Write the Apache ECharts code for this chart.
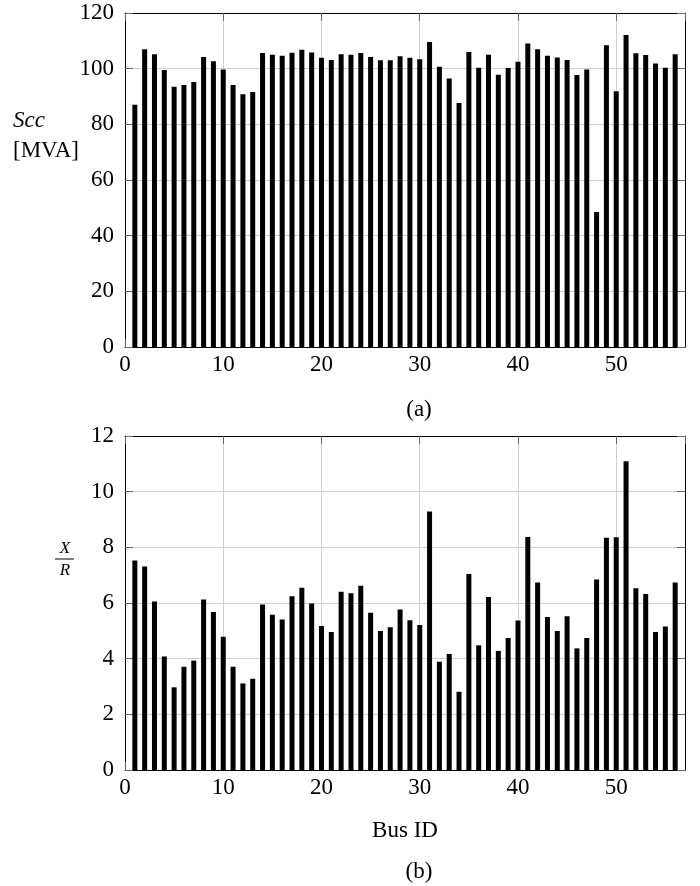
<!DOCTYPE html>
<html>
<head>
<meta charset="utf-8">
<script src="https://cdn.jsdelivr.net/npm/echarts@6/dist/echarts.min.js"></script>
<style>
html,body{margin:0;padding:0;background:#fff;}
#chart{width:700px;height:886px;}
</style>
</head>
<body>
<div id="chart"></div>
<script>
const busId = [1,2,3,4,5,6,7,8,9,10,11,12,13,14,15,16,17,18,19,20,21,22,23,24,25,26,27,28,29,30,31,32,33,34,35,36,37,38,39,40,41,42,43,44,45,46,47,48,49,50,51,52,53,54,55,56];
const sccMVA = [87.0,107.0,105.2,99.5,93.5,94.1,95.2,104.2,102.7,99.7,94.1,90.8,91.6,105.6,105.0,104.6,105.7,106.8,105.8,103.9,103.1,105.2,105.0,105.6,104.2,103.0,103.0,104.5,103.9,103.4,109.6,100.7,96.5,87.7,106.0,100.3,105.0,97.8,100.2,102.5,109.0,107.0,104.6,104.0,103.1,97.7,99.7,48.5,108.4,91.9,112.1,105.5,104.9,101.9,100.3,105.2];
const xrRatio = [7.53,7.31,6.05,4.08,2.97,3.71,3.93,6.13,5.68,4.79,3.71,3.11,3.28,5.95,5.58,5.41,6.24,6.55,5.98,5.17,4.96,6.40,6.35,6.62,5.65,4.99,5.13,5.77,5.38,5.21,9.29,3.89,4.17,2.81,7.04,4.48,6.22,4.28,4.74,5.37,8.37,6.74,5.50,4.99,5.52,4.37,4.74,6.84,8.34,8.36,11.09,6.53,6.32,4.96,5.16,6.74];
const xLabelText = 'Bus ID';
const captions = ['(a)', '(b)'];

const FONT = '"Liberation Serif", "DejaVu Serif", serif';
const TICK_FS = 23;

function xAxisPair(gridIndex) {
  const base = {
    type: 'value', gridIndex: gridIndex, min: 0, max: 57, interval: 10,
    axisLine: { show: true, onZero: false, lineStyle: { color: '#000', width: 1 } },
    axisTick: { show: true, inside: true, length: 8, lineStyle: { color: '#666', width: 1 } }
  };
  return [
    Object.assign({}, base, {
      position: 'bottom',
      axisLabel: { show: true, color: '#000', fontFamily: FONT, fontSize: TICK_FS, margin: 6, showMaxLabel: false },
      splitLine: { show: true, lineStyle: { color: '#cfcfcf', width: 1 } }
    }),
    Object.assign({}, base, {
      position: 'top',
      axisLabel: { show: false },
      splitLine: { show: false }
    })
  ];
}
function yAxisPair(gridIndex, max, interval) {
  const base = {
    type: 'value', gridIndex: gridIndex, min: 0, max: max, interval: interval,
    axisLine: { show: true, onZero: false, lineStyle: { color: '#000', width: 1 } },
    axisTick: { show: true, inside: true, length: 8, lineStyle: { color: '#666', width: 1 } }
  };
  return [
    Object.assign({}, base, {
      position: 'left',
      axisLabel: { show: true, color: '#000', fontFamily: FONT, fontSize: TICK_FS, margin: 11 },
      splitLine: { show: true, lineStyle: { color: '#cfcfcf', width: 1 } }
    }),
    Object.assign({}, base, {
      position: 'right',
      axisLabel: { show: false },
      splitLine: { show: false }
    })
  ];
}

const topData = busId.map((b, i) => [b, sccMVA[i]]);
const botData = busId.map((b, i) => [b, xrRatio[i]]);

const option = {
  animation: false,
  backgroundColor: '#fff',
  grid: [
    { left: 125, top: 13, width: 560, height: 334 },
    { left: 125, top: 436, width: 560, height: 334 }
  ],
  xAxis: [].concat(xAxisPair(0), xAxisPair(1)),
  yAxis: [].concat(yAxisPair(0, 120, 20), yAxisPair(1, 12, 2)),
  series: [
    { type: 'bar', xAxisIndex: 0, yAxisIndex: 0, data: topData, barWidth: 5, itemStyle: { color: '#000' } },
    { type: 'bar', xAxisIndex: 2, yAxisIndex: 2, data: botData, barWidth: 5, itemStyle: { color: '#000' } }
  ],
  graphic: [
    { type: 'text', left: 13, top: 109, style: { text: 'Scc', font: 'italic 23px ' + FONT, fill: '#000' } },
    { type: 'text', left: 13, top: 139, style: { text: '[MVA]', font: '23px ' + FONT, fill: '#000' } },
    { type: 'text', x: 65, y: 549, style: { text: 'X', font: 'italic 17px ' + FONT, fill: '#000', align: 'center', verticalAlign: 'middle' } },
    { type: 'line', shape: { x1: 55, y1: 559, x2: 74, y2: 559 }, style: { stroke: '#000', lineWidth: 1 } },
    { type: 'text', x: 65, y: 571, style: { text: 'R', font: 'italic 17px ' + FONT, fill: '#000', align: 'center', verticalAlign: 'middle' } },
    { type: 'text', x: 419, y: 410, style: { text: captions[0], font: '23px ' + FONT, fill: '#000', align: 'center', verticalAlign: 'middle' } },
    { type: 'text', x: 405, y: 831, style: { text: xLabelText, font: '23px ' + FONT, fill: '#000', align: 'center', verticalAlign: 'middle' } },
    { type: 'text', x: 419, y: 872, style: { text: captions[1], font: '23px ' + FONT, fill: '#000', align: 'center', verticalAlign: 'middle' } }
  ]
};

const chart = echarts.init(document.getElementById('chart'), null, { renderer: 'canvas' });
chart.setOption(option);
</script>
</body>
</html>
